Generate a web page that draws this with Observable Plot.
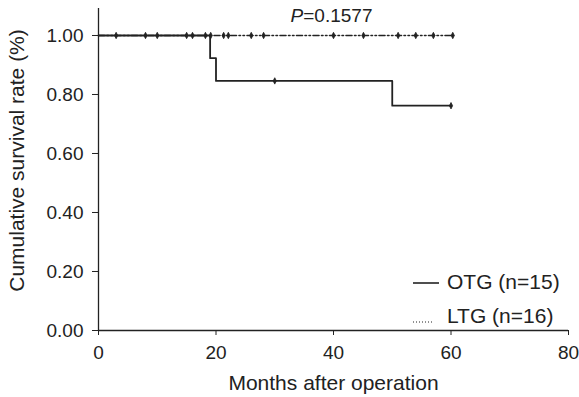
<!DOCTYPE html>
<html>
<head>
<meta charset="utf-8">
<script src="https://cdn.jsdelivr.net/npm/d3@7"></script>
<script src="https://cdn.jsdelivr.net/npm/@observablehq/plot@0.6"></script>
<style>
  html, body { margin: 0; padding: 0; background: #fff; }
  svg { font-family: "Liberation Sans", Arial, Helvetica, sans-serif; }
</style>
</head>
<body>
<div id="chart"></div>
<script>
// Kaplan–Meier step data
const otgTimes = [0, 19, 20, 50, 60];
const otgSurv  = [1, 0.923, 0.846, 0.762, 0.762];
const otgCensorTimes = [8, 15, 30, 60];
const otgCensorSurv  = [1, 1, 0.846, 0.762];

const ltgTimes = [0, 60.3];
const ltgSurv  = [1, 1];
const ltgCensorTimes = [3, 10, 16, 18.2, 19.1, 21.3, 22.1, 26, 28.1, 40, 45.1, 51, 54, 57, 60.3];

const xTicks = [0, 20, 40, 60, 80];
const yTicks = [0, 0.2, 0.4, 0.6, 0.8, 1.0];
const pLabel = "0.1577";
const legendLabels = ["OTG (n=15)", "LTG (n=16)"];
const xLabel = "Months after operation";
const yLabel = "Cumulative survival rate (%)";

const otg = otgTimes.map((t, i) => ({t, s: otgSurv[i]}));
const ltg = ltgTimes.map((t, i) => ({t, s: ltgSurv[i]}));
const censors = [
  ...otgCensorTimes.map((t, i) => ({t, s: otgCensorSurv[i]})),
  ...ltgCensorTimes.map(t => ({t, s: 1}))
];

const ink = "#222";
const censorSymbol = {
  draw(context, size) {
    const r = Math.sqrt(size / Math.PI);
    context.moveTo(0, -r);
    context.lineTo(r * 0.5, 0);
    context.lineTo(0, r);
    context.lineTo(-r * 0.5, 0);
    context.closePath();
  }
};

const W = 579, H = 397, mL = 98, mR = 11, mT = 8, mB = 67;

const plot = Plot.plot({
  width: W, height: H,
  marginLeft: mL, marginRight: mR, marginTop: mT, marginBottom: mB,
  x: {domain: [0, 80]},
  y: {domain: [0, 1.0915]},
  style: {fontFamily: '"Liberation Sans", Arial, Helvetica, sans-serif', color: ink, background: "#fff"},
  marks: [
    Plot.axisY({ticks: yTicks, tickFormat: d3.format(".2f"), tickSize: 6, tickPadding: 9, fontSize: 19, label: null, stroke: ink}),
    Plot.axisX({ticks: xTicks, tickFormat: d3.format("d"), tickSize: 5, tickPadding: 10, fontSize: 19, label: null, stroke: ink}),
    Plot.ruleX([0], {stroke: ink, strokeWidth: 1.3}),
    Plot.ruleY([0], {stroke: ink, strokeWidth: 1.3}),
    Plot.line(ltg, {x: "t", y: "s", stroke: ink, strokeWidth: 1.6, strokeDasharray: "6,2.5,1.5,2.5,1.5,2.5"}),
    Plot.line(otg, {x: "t", y: "s", curve: "step-after", stroke: ink, strokeWidth: 1.8}),
    Plot.dot(censors, {x: "t", y: "s", r: 3.2, symbol: censorSymbol, fill: ink, stroke: ink, strokeWidth: 0.8}),
    Plot.text([xLabel], {frameAnchor: "bottom", dy: 53, lineAnchor: "middle", fontSize: 21, fill: ink}),
    Plot.text([yLabel], {frameAnchor: "left", textAnchor: "middle", rotate: -90, dx: -81, dy: -9, lineAnchor: "middle", fontSize: 21, fill: ink}),
    Plot.text(["P=" + pLabel], {frameAnchor: "top", dx: -2, lineAnchor: "top", fontSize: 19, fill: ink, className: "pval"})
  ]
});

const svg = d3.select(plot);
// italic P in the p-value label
svg.selectAll(".pval text").each(function() {
  const t = d3.select(this);
  const txt = t.text();
  t.text(null);
  t.append("tspan").attr("font-style", "italic").text(txt.slice(0, 1));
  t.append("tspan").text(txt.slice(1));
});

// legend (inside plot frame, lower right)
const lg = svg.append("g").attr("fill", ink).attr("font-size", 21).attr("text-anchor", "start");
const lx0 = 413, rows = [282, 316];
lg.append("line").attr("x1", lx0).attr("x2", lx0 + 26).attr("y1", rows[0] + 1).attr("y2", rows[0] + 1)
  .attr("stroke", ink).attr("stroke-width", 1.6);
lg.append("line").attr("x1", lx0).attr("x2", lx0 + 20).attr("y1", rows[1] + 6).attr("y2", rows[1] + 6)
  .attr("stroke", ink).attr("stroke-width", 1).attr("stroke-dasharray", "1,2");
legendLabels.forEach((lab, i) => {
  lg.append("text").attr("x", 447).attr("y", rows[i]).attr("dy", "0.35em").attr("text-anchor", "start").text(lab);
});

document.getElementById("chart").appendChild(plot);
</script>
</body>
</html>
